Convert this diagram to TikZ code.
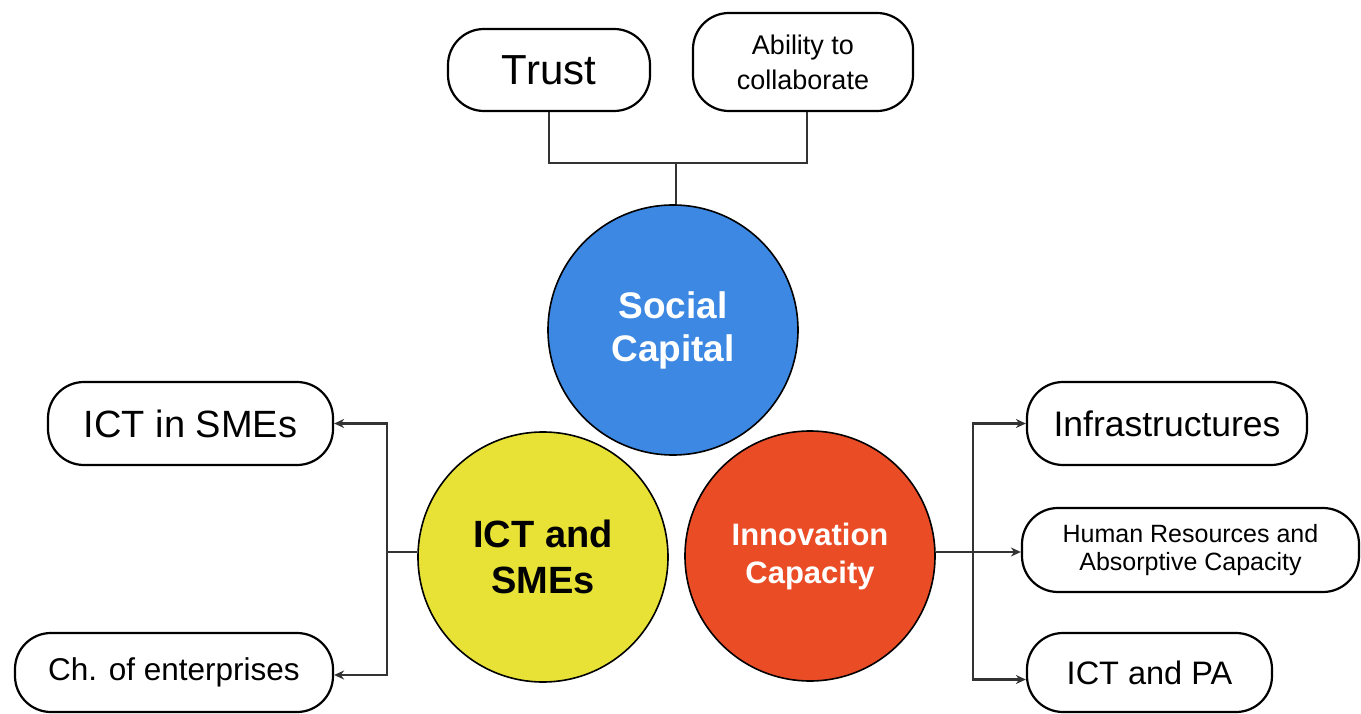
\documentclass[tikz,border=0pt]{standalone}
\usepackage{fontspec}
\setmainfont{Liberation Sans}
\usetikzlibrary{arrows.meta}
\definecolor{scblue}{RGB}{60,136,226}
\definecolor{ictyellow}{RGB}{232,226,55}
\definecolor{innred}{RGB}{234,76,38}
\newcommand\fsz[2]{\fontsize{#1}{#2}\selectfont}
\tikzset{
  capsule/.style={draw=black, line width=2.2pt, rounded corners=36pt, inner sep=0pt, align=center, text=black, fill=white},
  bigcircle/.style={circle, draw=black, line width=1.6pt, inner sep=0pt, minimum size=250pt, align=center},
  conn/.style={draw=black!80, line width=2.4pt},
  arr/.style={conn, -{Stealth[length=10pt,width=9pt]}}
}
\begin{document}
\begin{tikzpicture}[x=1pt,y=-1pt]
\useasboundingbox (0,0) rectangle (1361,714);
% circles
\node[bigcircle, fill=scblue, text=white, font={\bfseries\fsz{37}{43}}] (social) at (673,330) {Social\\Capital};
\node[bigcircle, fill=ictyellow, text=black, font={\bfseries\fsz{38}{46}}] (ict) at (543,557) {ICT and\\SMEs};
\node[bigcircle, fill=innred, text=white, font={\bfseries\fsz{31}{38}}] (inn) at (810,556) {Innovation\\Capacity};
% boxes
\node[capsule, minimum width=202pt, minimum height=82pt, font={\fsz{42}{46}}] (trust) at (549,70) {Trust};
\node[capsule, minimum width=220pt, minimum height=98pt, font={\fsz{27}{35}}] (ability) at (803,62) {Ability to\\collaborate};
\node[capsule, minimum width=285pt, minimum height=83pt, font={\fsz{38}{42}}] (ictsme) at (190.5,423.5) {ICT in SMEs};
\node[capsule, minimum width=318pt, minimum height=79pt, font={\fsz{31.5}{36}}] (chent) at (174,672.5) {Ch. of enterprises};
\node[capsule, minimum width=280pt, minimum height=83pt, font={\fsz{35.5}{40}}] (infra) at (1167,423.5) {Infrastructures};
\node[capsule, minimum width=337pt, minimum height=84pt, font={\fsz{25}{28}}] (human) at (1190.5,550) {Human Resources and\\Absorptive Capacity};
\node[capsule, minimum width=245pt, minimum height=79pt, font={\fsz{32.5}{36}}] (ictpa) at (1149.5,672.5) {ICT and PA};
% top connector
\coordinate (tj) at (676,163);
\draw[conn] (trust.south) |- (tj) -| ([xshift=4pt]ability.south);
\draw[conn] (tj) -- (tj |- social.north);
% left connector
\coordinate (lj) at (387,552);
\draw[conn] (ict.west |- lj) -- (lj);
\draw[arr] (lj) |- (ictsme.east);
\draw[arr] (lj) |- ([yshift=-2.5pt]chent.east);
% right connector
\coordinate (rj) at (973,552);
\draw[conn] (inn.east |- rj) -- (rj);
\draw[arr] (rj) |- (infra.west);
\draw[arr] (rj) -- (human.west |- rj);
\draw[arr] (rj) |- ([yshift=-7pt]ictpa.west);
\end{tikzpicture}
\end{document}
